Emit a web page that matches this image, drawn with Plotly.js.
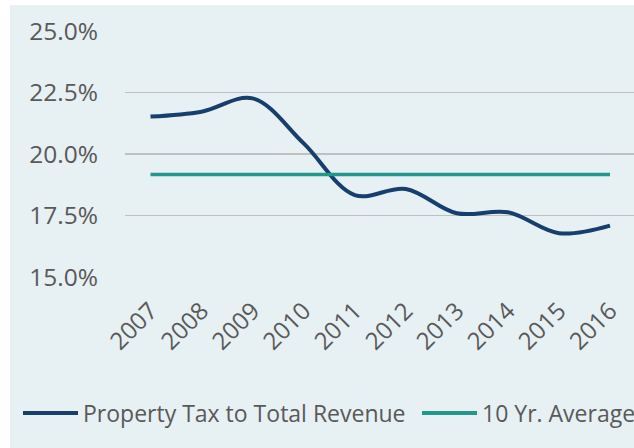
<!DOCTYPE html>
<html>
<head>
<meta charset="utf-8">
<script src="https://cdn.plot.ly/plotly-3.0.1.min.js"></script>
<style>
  html, body { margin: 0; padding: 0; background: #ffffff; width: 634px; height: 448px; overflow: hidden; }
  #chart { position: absolute; left: 10px; top: 5px; width: 624px; height: 443px; }
</style>
</head>
<body>
<div id="chart"></div>
<script>
const years = ["2007", "2008", "2009", "2010", "2011", "2012", "2013", "2014", "2015", "2016"];
const propertyTaxShare = [21.52, 21.72, 22.26, 20.43, 18.33, 18.58, 17.59, 17.63, 16.78, 17.09];
const tenYearAverage = [19.17, 19.17, 19.17, 19.17, 19.17, 19.17, 19.17, 19.17, 19.17, 19.17];
const yTicks = [15, 17.5, 20, 22.5, 25];
const yTickLabels = ["15.0%", "17.5%", "20.0%", "22.5%", "25.0%"];
const seriesNames = ["Property Tax to Total Revenue", "10 Yr. Average"];
const seriesColors = ["#173f6e", "#21998a"];

const xIdx = years.map((_, i) => i);

const W = 624, H = 443, L = 115, R = 0;
const plotW = W - L - R;
const xr = [-0.5, 9.47];
// convert a div pixel x into paper coordinates (for the long legend key lines)
const pxToPaper = px => (px - L) / plotW;

const traces = [
  {
    x: xIdx, y: propertyTaxShare, name: seriesNames[0], legend: "legend",
    type: "scatter", mode: "lines",
    line: { color: seriesColors[0], width: 4, shape: "spline", smoothing: 1 }
  },
  {
    x: xIdx, y: tenYearAverage, name: seriesNames[1], legend: "legend2",
    type: "scatter", mode: "lines",
    line: { color: seriesColors[1], width: 3.5 }
  }
];

const legendBase = {
  orientation: "h", xref: "container", yref: "container",
  y: 0.079, xanchor: "left", yanchor: "middle",
  font: { size: 23, color: "#595959" },
  bgcolor: "rgba(0,0,0,0)"
};

// legend key lines lengthened to match the reference (55px keys)
const keyY = 408; // div px
const keyPaperY = 1 - (keyY - 26) / (H - 26 - 171);

const layout = {
  width: W, height: H,
  margin: { l: L, r: R, t: 26, b: 171 },
  paper_bgcolor: "#e7f0f3",
  plot_bgcolor: "rgba(0,0,0,0)",
  font: { family: "Open Sans, sans-serif", color: "#595959", size: 22 },
  showlegend: true,
  legend: Object.assign({}, legendBase, { x: 33 / W }),
  legend2: Object.assign({}, legendBase, { x: 432 / W }),
  xaxis: {
    range: xr,
    tickmode: "array", tickvals: xIdx, ticktext: years,
    tickangle: -45, showgrid: false, zeroline: false, showline: false,
    ticks: "", tickfont: { size: 24, color: "#595959" },
    ticklabelstandoff: 14, fixedrange: true
  },
  yaxis: {
    range: [15, 25], tickmode: "array", tickvals: yTicks, ticktext: yTickLabels,
    showgrid: true, gridcolor: "#c0c0c0", gridwidth: 1.75,
    zeroline: false, showline: false, ticks: "",
    tickfont: { size: 24.5, color: "#595959" }, ticklabelstandoff: 26, fixedrange: true
  },
  shapes: [
    { type: "line", xref: "paper", yref: "paper", x0: pxToPaper(13), x1: pxToPaper(68),
      y0: keyPaperY, y1: keyPaperY, line: { color: seriesColors[0], width: 4 } },
    { type: "line", xref: "paper", yref: "paper", x0: pxToPaper(412), x1: pxToPaper(467),
      y0: keyPaperY, y1: keyPaperY, line: { color: seriesColors[1], width: 4 } }
  ]
};

Plotly.newPlot("chart", traces, layout, { displayModeBar: false, staticPlot: true });
</script>
</body>
</html>
